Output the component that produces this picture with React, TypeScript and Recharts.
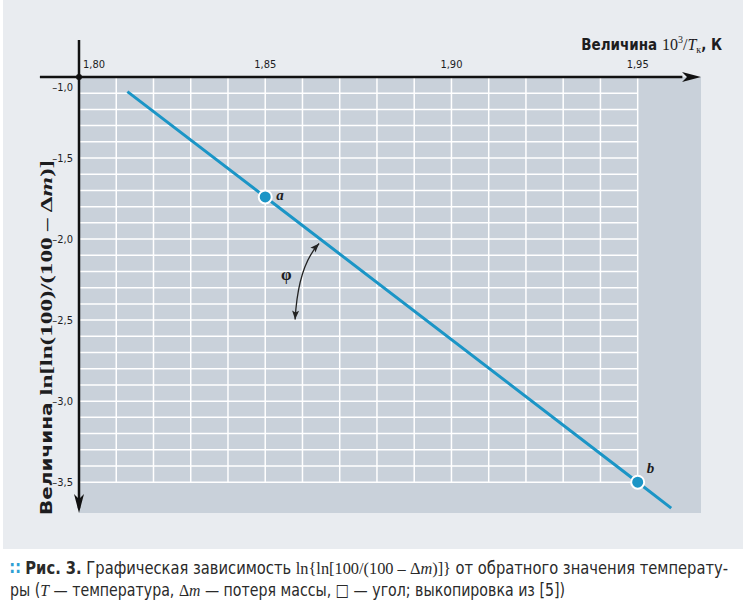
import React from "react";
import {
  ComposedChart,
  Line,
  Scatter,
  XAxis,
  YAxis,
  ReferenceLine,
  ReferenceArea,
  ReferenceDot,
} from "recharts";

// axis ticks
const xTicks = [1.8, 1.85, 1.9, 1.95];
const yTicks = [-1.0, -1.5, -2.0, -2.5, -3.0, -3.5];

// white grid (step 0,01 by x, 0,1 by y)
const xGrid = [1.81, 1.82, 1.83, 1.84, 1.85, 1.86, 1.87, 1.88, 1.89, 1.9, 1.91, 1.92, 1.93, 1.94, 1.95];
const yGrid = [
  -1.1, -1.2, -1.3, -1.4, -1.5, -1.6, -1.7, -1.8, -1.9, -2.0, -2.1, -2.2, -2.3,
  -2.4, -2.5, -2.6, -2.7, -2.8, -2.9, -3.0, -3.1, -3.2, -3.3, -3.4, -3.5,
];

// regression line
const lineX = [1.813, 1.85, 1.95, 1.959];
const lineY = [-1.09, -1.74, -3.5, -3.66];

// marked points
const pointNames = ["a", "b"];
const pointX = [1.85, 1.95];
const pointY = [-1.74, -3.5];

// angle phi marker sits on the line here
const phiX = 1.865;
const phiY = -2.003;

const lineData = lineX.map((x, i) => ({ x, y: lineY[i] }));
const pointData = pointNames.map((name, i) => ({ name, x: pointX[i], y: pointY[i] }));

const X_MIN = 1.8;
const X_MAX = 1.967;
const Y_MIN = -3.69;
const Y_MAX = -1.0;

const NARROW = "'DejaVu Sans Condensed', 'DejaVu Sans', sans-serif";
const SERIF = "'Liberation Serif', 'DejaVu Serif', serif";
const BLUE = "#1b95c6";
const TXT = "#1d1d1f";
const narrowStyle = { fontStretch: "condensed" } as React.CSSProperties;

const labelOffset: Record<string, [number, number]> = { a: [11, 3], b: [9, -9] };

const fmt = (v: number, d: number) => v.toFixed(d).replace(".", ",").replace("-", "–");

function XTick(props: any) {
  const v = props.payload.value;
  const first = v === X_MIN;
  return (
    <text x={first ? props.x + 4 : props.x} y={68} textAnchor={first ? "start" : "middle"}
      fontFamily={NARROW} style={narrowStyle} fontSize={11} fill={TXT}>
      {fmt(v, 2)}
    </text>
  );
}

function YTick(props: any) {
  const v = props.payload.value;
  const dy = v === Y_MAX ? 14 : 4;
  return (
    <text x={73} y={props.y + dy} textAnchor="end" fontFamily={NARROW} style={narrowStyle}
      fontSize={11} fill={TXT}>
      {fmt(v, 1)}
    </text>
  );
}

function arrowHead(x: number, y: number, dx: number, dy: number, len = 9, half = 3.5) {
  const l = Math.hypot(dx, dy);
  const ux = dx / l, uy = dy / l;
  const bx = x - ux * len, by = y - uy * len;
  return `M${x},${y} L${bx - uy * half},${by + ux * half} L${bx + ux * 2},${by + uy * 2} L${bx + uy * half},${by - ux * half} Z`;
}

function PointShape(props: any) {
  const { cx, cy, payload } = props;
  const [ox, oy] = labelOffset[payload.name];
  return (
    <g>
      <circle cx={cx} cy={cy} r={6.5} fill={BLUE} stroke="#fff" strokeWidth={2} />
      <text x={cx + ox} y={cy + oy} fontFamily={SERIF} fontStyle="italic" fontWeight="bold"
        fontSize={15} fill={TXT}>
        {payload.name}
      </text>
    </g>
  );
}

function PhiShape(props: any) {
  const { cx, cy } = props;
  const sx = cx - 2, sy = cy + 4;
  const qx = cx - 23, qy = cy + 26;
  const ex = cx - 26, ey = cy + 80;
  return (
    <g>
      <path d={`M${sx},${sy} Q${qx},${qy} ${ex},${ey}`} fill="none" stroke="#222" strokeWidth={1.3} />
      <path d={arrowHead(sx, sy, sx - qx, sy - qy)} fill="#222" />
      <path d={arrowHead(ex, ey, ex - qx, ey - qy)} fill="#222" />
      <text x={cx - 40} y={cy + 40} fontFamily={SERIF} fontSize={17} fontWeight="bold" fill={TXT}>φ</text>
    </g>
  );
}

function RightArrow(props: any) {
  const { cx, cy } = props;
  return <path d={`M${cx},${cy} L${cx - 19},${cy - 5} L${cx - 14},${cy} L${cx - 19},${cy + 5} Z`} fill="#111" />;
}

function DownArrow(props: any) {
  const { cx, cy } = props;
  return <path d={`M${cx},${cy} L${cx - 5},${cy - 19} L${cx},${cy - 14} L${cx + 5},${cy - 19} Z`} fill="#111" />;
}

function OriginDot(props: any) {
  return <circle cx={props.cx} cy={props.cy} r={3} fill="#111" />;
}

export default function App() {
  return (
    <div style={{ position: "absolute", left: 0, top: 0, width: 746, height: 605, background: "#fff" }}>
      <div style={{ position: "absolute", left: 3, top: 0, width: 740, height: 549, background: "#e9ecf0" }} />
      <div style={{ position: "absolute", left: 0, top: 0 }}>
        <ComposedChart width={746} height={549} margin={{ top: 47, right: 45, bottom: 36, left: 39 }}>
          <XAxis type="number" dataKey="x" orientation="top" domain={[X_MIN, X_MAX]} ticks={xTicks}
            height={30} axisLine={false} tickLine={false} tick={<XTick />} allowDataOverflow />
          <YAxis type="number" dataKey="y" domain={[Y_MIN, Y_MAX]} ticks={yTicks} width={40}
            axisLine={false} tickLine={false} tick={<YTick />} allowDataOverflow />
          <ReferenceArea x1={X_MIN} x2={X_MAX} y1={Y_MIN} y2={Y_MAX} fill="#c9d1da" fillOpacity={1}
            stroke="none" ifOverflow="visible" />
          {xGrid.map((x) => (
            <ReferenceLine key={"vx" + x} segment={[{ x, y: Y_MAX }, { x, y: -3.5 }]} stroke="#fff"
              strokeWidth={1.5} ifOverflow="visible" />
          ))}
          {yGrid.map((y) => (
            <ReferenceLine key={"hy" + y} segment={[{ x: X_MIN, y }, { x: 1.95, y }]} stroke="#fff"
              strokeWidth={1.5} ifOverflow="visible" />
          ))}
          <ReferenceLine segment={[{ x: 1.7895, y: Y_MAX }, { x: 1.962, y: Y_MAX }]} stroke="#111"
            strokeWidth={2.5} ifOverflow="visible" />
          <ReferenceLine segment={[{ x: X_MIN, y: -0.771 }, { x: X_MIN, y: -3.66 }]} stroke="#111"
            strokeWidth={2.5} ifOverflow="visible" />
          <ReferenceDot x={X_MAX} y={Y_MAX} r={1} shape={<RightArrow />} ifOverflow="visible" />
          <ReferenceDot x={X_MIN} y={Y_MIN} r={1} shape={<DownArrow />} ifOverflow="visible" />
          <ReferenceDot x={X_MIN} y={Y_MAX} r={3} shape={<OriginDot />} ifOverflow="visible" />
          <Line data={lineData} dataKey="y" type="linear" stroke={BLUE} strokeWidth={3} dot={false}
            isAnimationActive={false} />
          <ReferenceDot x={phiX} y={phiY} r={1} shape={<PhiShape />} ifOverflow="visible" />
          <Scatter data={pointData} dataKey="y" shape={<PointShape />} isAnimationActive={false} />
        </ComposedChart>
      </div>
      <svg width={746} height={605} style={{ position: "absolute", left: 0, top: 0, pointerEvents: "none" }}>
        <text x={722} y={50} textAnchor="end" fill={TXT}>
          <tspan fontFamily={NARROW} style={narrowStyle} fontWeight="bold" fontSize={15}>Величина </tspan>
          <tspan fontFamily={SERIF} fontSize={16}>10</tspan>
          <tspan fontFamily={SERIF} fontSize={10} dy={-7}>3</tspan>
          <tspan fontFamily={SERIF} fontSize={16} dy={7}>/</tspan>
          <tspan fontFamily={SERIF} fontSize={16} fontStyle="italic">T</tspan>
          <tspan fontFamily={SERIF} fontSize={10} dy={3}>к</tspan>
          <tspan fontFamily={NARROW} style={narrowStyle} fontWeight="bold" fontSize={15} dy={-3}>, К</tspan>
        </text>
        <text transform="translate(52, 515) rotate(-90)" fill={TXT} textLength={355}
          lengthAdjust="spacingAndGlyphs">
          <tspan fontFamily={NARROW} style={narrowStyle} fontWeight="bold" fontSize={15}>Величина </tspan>
          <tspan fontFamily={SERIF} fontWeight="bold" fontSize={17}>ln[ln(100)/(100 – Δ</tspan>
          <tspan fontFamily={SERIF} fontWeight="bold" fontStyle="italic" fontSize={17}>m</tspan>
          <tspan fontFamily={SERIF} fontWeight="bold" fontSize={17}>)]</tspan>
        </text>
        <text x={10} y={574} fontFamily={NARROW} style={narrowStyle} fontSize={17} fill="#2a2a2a"
          textLength={718} lengthAdjust="spacingAndGlyphs">
          <tspan fill="#2f9fd4" fontWeight="bold">∷ </tspan>
          <tspan fontWeight="bold">Рис. 3.</tspan>
          <tspan> Графическая зависимость </tspan>
          <tspan fontFamily={SERIF}>ln{"{"}ln[100/(100 – Δ</tspan>
          <tspan fontFamily={SERIF} fontStyle="italic">m</tspan>
          <tspan fontFamily={SERIF}>)]{"}"}</tspan>
          <tspan> от обратного значения температу-</tspan>
        </text>
        <text x={10} y={596} fontFamily={NARROW} style={narrowStyle} fontSize={17} fill="#2a2a2a"
          textLength={555} lengthAdjust="spacingAndGlyphs">
          <tspan>ры (</tspan>
          <tspan fontFamily={SERIF} fontStyle="italic">T</tspan>
          <tspan> — температура, </tspan>
          <tspan fontFamily={SERIF}>Δ</tspan>
          <tspan fontFamily={SERIF} fontStyle="italic">m</tspan>
          <tspan> — потеря массы, □ — угол; выкопировка из [5])</tspan>
        </text>
      </svg>
    </div>
  );
}
